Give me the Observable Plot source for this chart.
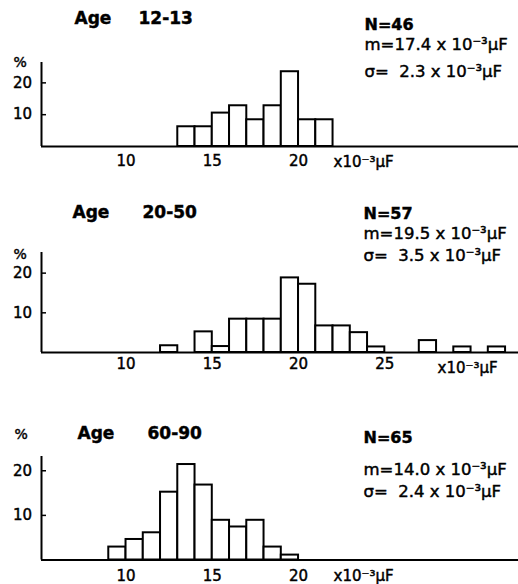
<!DOCTYPE html>
<html>
<head>
<meta charset="utf-8">
<script src="https://cdn.jsdelivr.net/npm/d3@7"></script>
<script src="https://cdn.jsdelivr.net/npm/@observablehq/plot@0.6"></script>
<style>
  body { margin: 0; background: #fff; }
  #chart { width: 518px; }
  #chart svg { display: block; }
  /* heavier lettering for all labels */
  #chart svg text { stroke: #000; stroke-width: 0.45px; }
</style>
</head>
<body>
<div id="chart"></div>
<script>
// Distribution of capacitance (×10⁻³ μF) by age group, percent of subjects per 1-unit bin.
const ageGroups = ["12-13", "20-50", "60-90"];
const counts = [46, 57, 65];
const means = ["17.4", "19.5", "14.0"];
const sigmas = ["2.3", "3.5", "2.4"];

const binStart1 = [13, 14, 15, 16, 17, 18, 19, 20, 21];
const percent1 = [6.2, 6.2, 10.5, 12.8, 8.4, 12.8, 23.5, 8.4, 8.4];

const binStart2 = [12, 14, 15, 16, 17, 18, 19, 20, 21, 22, 23, 24, 27, 29, 31];
const percent2 = [1.7, 5.2, 1.5, 8.4, 8.4, 8.4, 18.8, 17.2, 6.7, 6.7, 5.0, 1.4, 3.0, 1.4, 1.4];

const binStart3 = [9, 10, 11, 12, 13, 14, 15, 16, 17, 18, 19];
const percent3 = [2.9, 4.6, 6.1, 15.2, 21.4, 16.8, 8.9, 7.4, 8.9, 2.9, 1.1];

const xTicks1 = [10, 15, 20];
const xTicks2 = [10, 15, 20, 25];
const xTicks3 = [10, 15, 20];
const yTicks = [10, 20];
const unitLabel = "x10⁻³μF";

const font = "'DejaVu Sans', sans-serif";
const xDomain = [5.1, 32.75];
const ml = 41;

function panel(i, bins, pct, xTicks, o) {
  const rows = bins.map((b, k) => ({x1: b, x2: b + 1, y: pct[k]}));
  // place a text relative to the SVG's own pixel frame
  const at = (x, y, extra = {}) => ({
    frameAnchor: "top-left", dx: x - ml, dy: y - o.top,
    lineAnchor: "bottom", textAnchor: "start", text: d => d, ...extra
  });
  const L = o.layout;
  return Plot.plot({
    width: 518,
    height: o.height,
    marginLeft: ml,
    marginRight: 0,
    marginTop: o.top,
    marginBottom: o.height - o.base,
    style: {fontFamily: font, color: "#000", background: "#fff", overflow: "visible"},
    x: {domain: xDomain},
    y: {domain: [0, o.yMax]},
    marks: [
      Plot.rectY(rows, {x1: "x1", x2: "x2", y: "y", fill: "#fff", stroke: "#000", strokeWidth: 2}),
      Plot.ruleY([0], {stroke: "#000", strokeWidth: 2}),
      Plot.ruleX([xDomain[0]], {stroke: "#000", strokeWidth: 2}),
      Plot.axisX({ticks: xTicks, tickSize: 0, tickPadding: L.tickPad, tickFormat: d => String(d), fontSize: 15, label: null}),
      Plot.axisY({ticks: yTicks, tickSize: -5, tickPadding: 14.5, tickFormat: d => String(d), fontSize: 15, strokeWidth: 1.5, label: null}),
      Plot.text(["Age"], at(L.ageX, L.titleY, {fontSize: 17, fontWeight: "bold"})),
      Plot.text([ageGroups[i]], at(L.rangeX, L.titleY, {fontSize: 17, fontWeight: "bold"})),
      Plot.text([`N=${counts[i]}`], at(L.statX, L.nY, {fontSize: 16, fontWeight: "bold"})),
      Plot.text([`m=${means[i]} x 10⁻³μF`], at(L.statX, L.mY, {fontSize: 16.5})),
      Plot.text([`σ=\u00a0\u00a0${sigmas[i]} x 10⁻³μF`], at(L.statX, L.sY, {fontSize: 16.5})),
      Plot.text(["%"], at(L.pctX, L.pctY, {fontSize: 14})),
      Plot.text([unitLabel], at(L.unitX, L.unitY, {fontSize: 15}))
    ]
  });
}

const chart = document.getElementById("chart");
chart.append(
  panel(0, binStart1, percent1, xTicks1, {
    height: 195, top: 62, base: 146, yMax: 26.4,
    layout: {tickPad: 9, ageX: 74, rangeX: 138, titleY: 23, statX: 364, nY: 29, mY: 49, sY: 76,
             pctX: 13, pctY: 66, unitX: 333, unitY: 166}
  }),
  panel(1, binStart2, percent2, xTicks2, {
    height: 195, top: 57, base: 157, yMax: 25.2,
    layout: {tickPad: 6, ageX: 72, rangeX: 142, titleY: 22, statX: 363, nY: 23, mY: 43, sY: 65,
             pctX: 13, pctY: 63, unitX: 437, unitY: 177}
  }),
  panel(2, binStart3, percent3, xTicks3, {
    height: 194, top: 66, base: 169.5, yMax: 23.2,
    layout: {tickPad: 10, ageX: 77, rangeX: 147, titleY: 48, statX: 363, nY: 52, mY: 84, sY: 106,
             pctX: 14, pctY: 48, unitX: 333, unitY: 190}
  })
);
</script>
</body>
</html>
